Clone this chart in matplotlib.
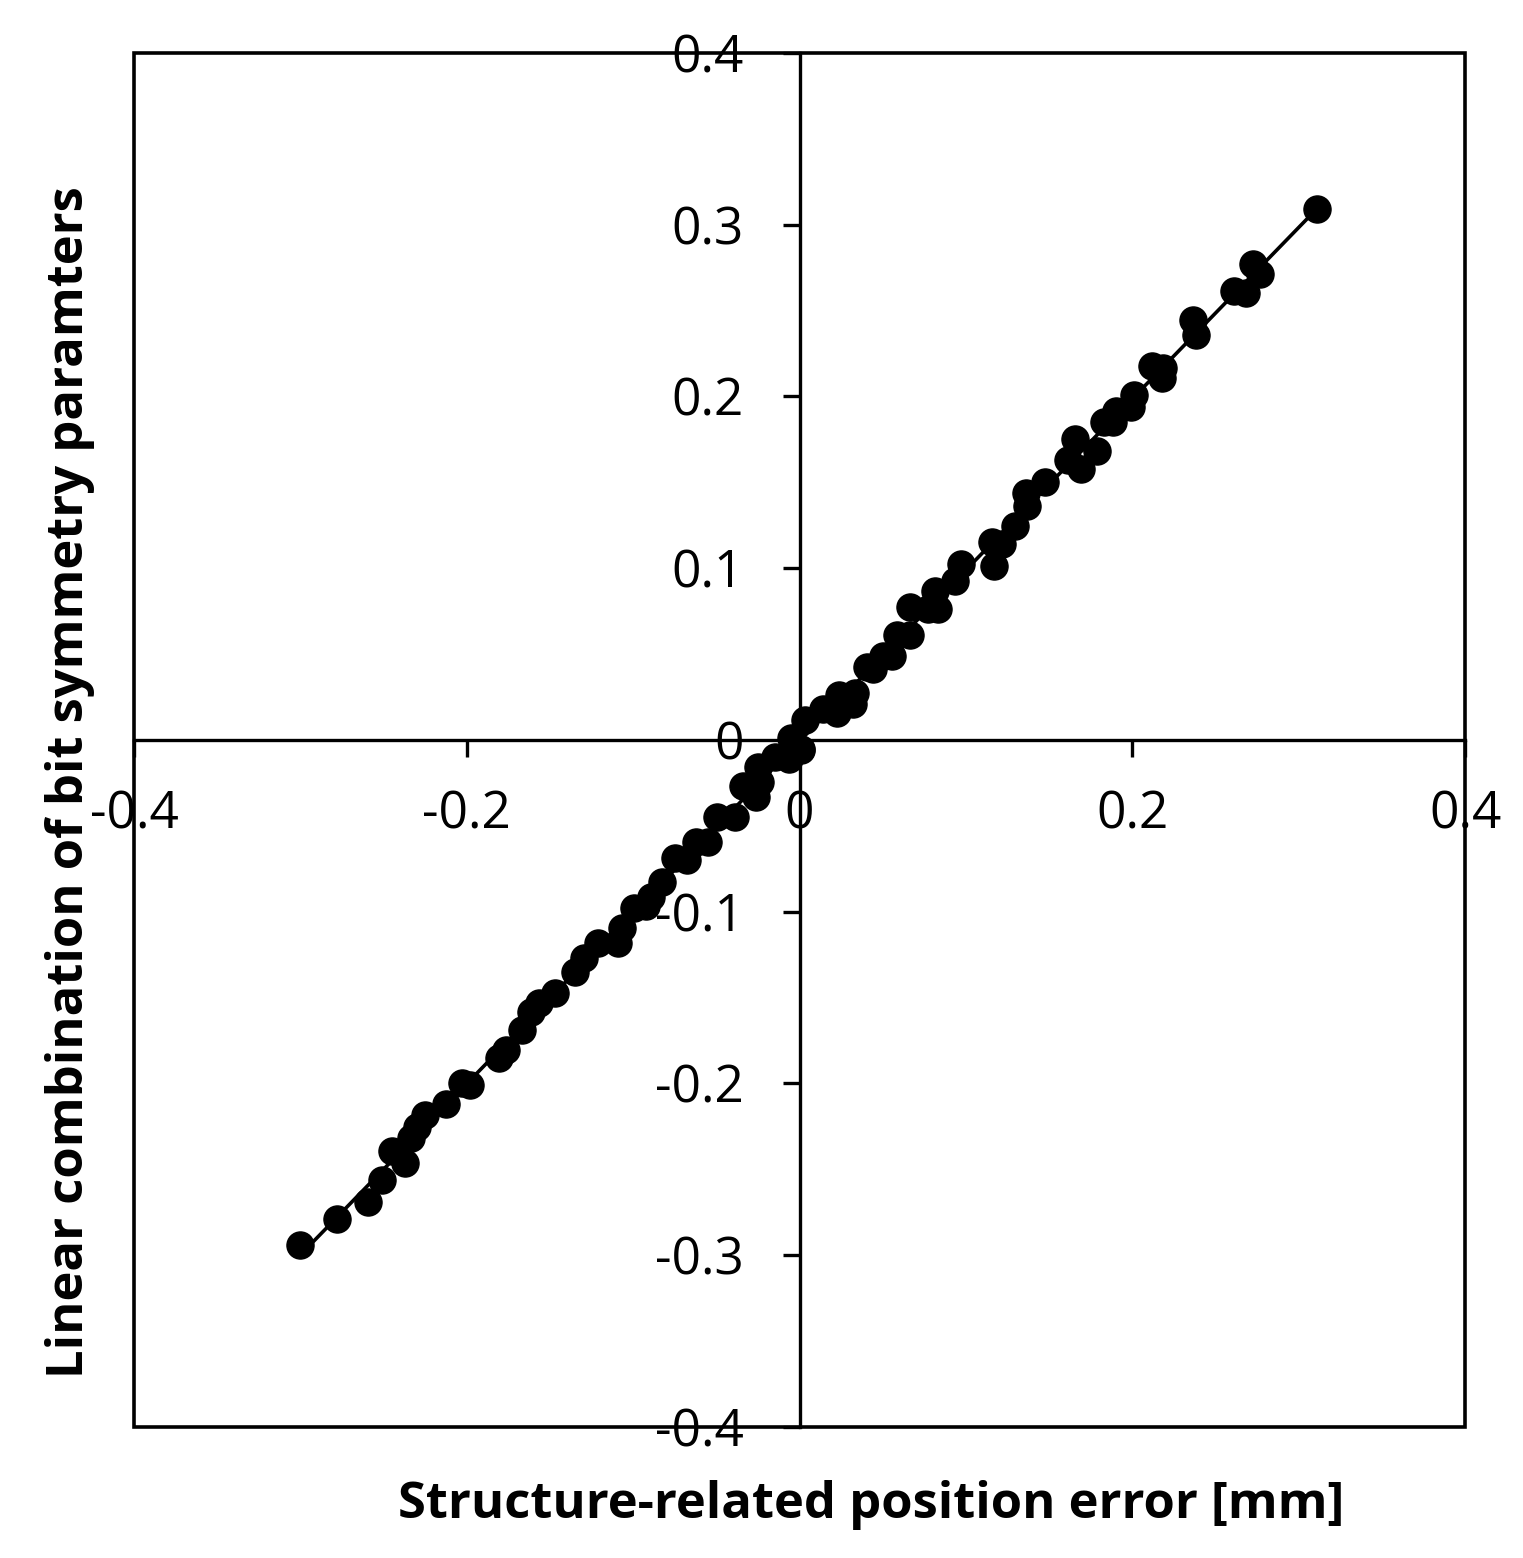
import numpy as np
import matplotlib
matplotlib.use("Agg")
import matplotlib.pyplot as plt
from matplotlib.patches import Rectangle

plt.rcParams['font.family'] = ['Open Sans', 'DejaVu Sans']
plt.rcParams['axes.unicode_minus'] = False

# values
pos_error = [
    -0.3005, -0.2781, -0.2595, -0.2512, -0.2450, -0.2369, -0.2336, -0.2300,
    -0.2249, -0.2128, -0.2030, -0.1980, -0.1807, -0.1762, -0.1668, -0.1617,
    -0.1569, -0.1467, -0.1347, -0.1295, -0.1212, -0.1092, -0.1067, -0.0995,
    -0.0922, -0.0891, -0.0829, -0.0746, -0.0674, -0.0622, -0.0549, -0.0497,
    -0.0388, -0.0342, -0.0260, -0.0249, -0.0240, -0.0145, -0.0062, 0.0010,
    -0.0053, 0.0011, 0.0032, 0.0139, 0.0225, 0.0235, 0.0321, 0.0332,
    0.0406, 0.0439, 0.0503, 0.0556, 0.0588, 0.0663, 0.0663, 0.0770,
    0.0834, 0.0813, 0.0937, 0.0973, 0.1166, 0.1155, 0.1219, 0.1294,
    0.1365, 0.1358, 0.1476, 0.1615, 0.1690, 0.1658, 0.1786, 0.1829,
    0.1882, 0.1904, 0.1989, 0.2011, 0.2178, 0.2118, 0.2182, 0.2385,
    0.2364, 0.2610, 0.2684, 0.2727, 0.2770, 0.3112,
]
symmetry_comb = [
    -0.2939, -0.2787, -0.2688, -0.2560, -0.2393, -0.2465, -0.2318, -0.2254,
    -0.2183, -0.2120, -0.2000, -0.2010, -0.1854, -0.1805, -0.1686, -0.1584,
    -0.1533, -0.1473, -0.1351, -0.1272, -0.1183, -0.1183, -0.1095, -0.0976,
    -0.0966, -0.0917, -0.0828, -0.0690, -0.0700, -0.0592, -0.0592, -0.0448,
    -0.0448, -0.0266, -0.0330, -0.0158, -0.0247, -0.0099, -0.0108, -0.0060,
    0.0011, -0.0053, 0.0116, 0.0180, 0.0159, 0.0264, 0.0212, 0.0275,
    0.0423, 0.0413, 0.0487, 0.0487, 0.0613, 0.0613, 0.0772, 0.0762,
    0.0762, 0.0867, 0.0924, 0.1026, 0.1015, 0.1153, 0.1142, 0.1248,
    0.1364, 0.1439, 0.1502, 0.1629, 0.1580, 0.1750, 0.1682, 0.1851,
    0.1851, 0.1915, 0.1936, 0.2010, 0.2105, 0.2179, 0.2168, 0.2359,
    0.2443, 0.2613, 0.2602, 0.2771, 0.2714, 0.3089,
]
x_ticks = [-0.4, -0.2, 0, 0.2, 0.4]
x_tick_labels = ['-0.4', '-0.2', '0', '0.2', '0.4']
y_ticks = [-0.4, -0.3, -0.2, -0.1, 0, 0.1, 0.2, 0.3, 0.4]
y_tick_labels = ['-0.4', '-0.3', '-0.2', '-0.1', '0', '0.1', '0.2', '0.3', '0.4']

x = np.array(pos_error)
y = np.array(symmetry_comb)

fig = plt.figure(figsize=(15.23, 15.58), dpi=100)
ax = fig.add_axes([0.088, 0.0841, 0.874, 0.8819])

# linear trend line over the data range
k, b = np.polyfit(x, y, 1)
xl = np.array([x.min(), x.max()])
ax.plot(xl, k * xl + b, color='black', lw=2.6, zorder=3)
ax.plot(x, y, 'o', color='black', ms=19.5, zorder=4)

ax.set_xlim(-0.4, 0.4)
ax.set_ylim(-0.4, 0.4)

# axes crossing at the origin
ax.spines['left'].set_position(('data', 0))
ax.spines['bottom'].set_position(('data', 0))
for s in ['top', 'right']:
    ax.spines[s].set_visible(False)
for s in ['left', 'bottom']:
    ax.spines[s].set_linewidth(2.4)

# outer frame of the plot area
ax.add_patch(Rectangle((0, 0), 1, 1, transform=ax.transAxes, fill=False,
                       lw=2.6, edgecolor='black', clip_on=False, zorder=2.6))

ax.set_xticks(x_ticks)
ax.set_xticklabels(x_tick_labels)
ax.set_yticks(y_ticks)
ax.set_yticklabels(y_tick_labels)
ax.tick_params(axis='both', direction='out', length=12, width=2.4,
               labelsize=37, colors='black')
ax.tick_params(axis='x', pad=24)
ax.tick_params(axis='y', pad=28)

fig.text(0.572, 0.034, 'Structure-related position error [mm]',
         ha='center', va='center', fontsize=36.5, fontweight='bold')
fig.text(0.046, 0.498, 'Linear combination of bit symmetry paramters',
         ha='center', va='center', rotation=90, fontsize=36.5, fontweight='bold')

fig.savefig('out.png', dpi=100)
